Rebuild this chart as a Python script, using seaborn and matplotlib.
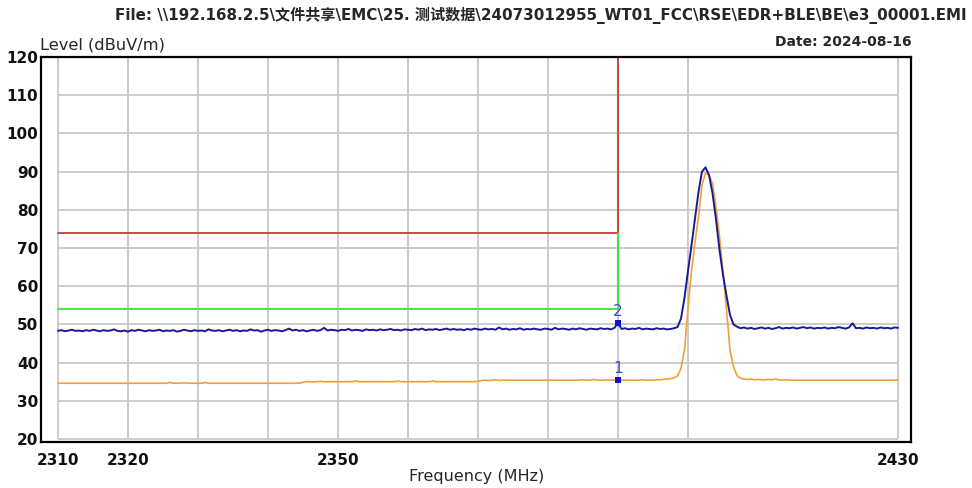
import numpy as np
import pandas as pd
import matplotlib
matplotlib.use("Agg")
import matplotlib.pyplot as plt
from matplotlib import font_manager
import seaborn as sns

# sweep: 2310 - 2430 MHz, 0.5 MHz step
freq_start, freq_stop, freq_step = 2310, 2430, 0.5

# peak detector trace (dBuV/m)
peak_level = [
    48.3, 48.5, 48.2, 48.4, 48.6, 48.3, 48.4, 48.2, 48.5, 48.3, 48.6, 48.4, 48.2, 48.5, 48.3, 48.4, 48.7, 48.3, 48.2, 48.4,
    48.1, 48.5, 48.3, 48.6, 48.4, 48.2, 48.5, 48.3, 48.4, 48.6, 48.2, 48.4, 48.3, 48.5, 48.1, 48.3, 48.6, 48.4, 48.2, 48.5,
    48.3, 48.4, 48.2, 48.7, 48.4, 48.3, 48.5, 48.2, 48.4, 48.6, 48.3, 48.5, 48.2, 48.4, 48.3, 48.7, 48.4, 48.5, 48.1, 48.4,
    48.6, 48.3, 48.5, 48.4, 48.2, 48.5, 48.9, 48.4, 48.6, 48.3, 48.5, 48.2, 48.4, 48.6, 48.3, 48.5, 49.1, 48.4, 48.6, 48.5,
    48.3, 48.6, 48.5, 48.8, 48.4, 48.6, 48.5, 48.3, 48.7, 48.5, 48.6, 48.4, 48.7, 48.5, 48.6, 48.8, 48.5, 48.6, 48.4, 48.7,
    48.6, 48.5, 48.8, 48.6, 48.9, 48.5, 48.7, 48.6, 48.8, 48.5, 48.7, 48.9, 48.6, 48.8, 48.6, 48.7, 48.5, 48.8, 48.6, 48.9,
    48.7, 48.6, 48.9, 48.7, 48.8, 48.6, 49.2, 48.7, 48.9, 48.6, 48.8, 48.7, 49.0, 48.6, 48.8, 48.7, 48.9, 48.7, 48.6, 48.9,
    48.8, 48.6, 49.1, 48.7, 48.9, 48.8, 48.6, 48.9, 48.7, 49.0, 48.8, 48.6, 48.9, 48.8, 48.7, 49.0, 48.8, 48.9, 48.7, 49.1,
    50.4, 48.8, 49.0, 48.7, 48.9, 48.8, 49.1, 48.7, 48.9, 48.8, 48.7, 49.0, 48.8, 48.9, 48.7, 48.8, 49.0, 49.3, 51.5, 57.0,
    64.0, 70.7, 77.8, 84.7, 90.0, 91.1, 89.1, 84.4, 77.5, 69.5, 63.0, 57.5, 52.5, 50.0, 49.4, 49.0, 49.2, 48.9, 49.1, 48.8,
    49.0, 49.2, 48.9, 49.1, 48.8, 49.0, 49.3, 48.9, 49.1, 49.0, 49.2, 48.9, 49.1, 49.3, 49.0, 49.2, 48.9, 49.1, 49.0, 49.2,
    48.9, 49.1, 49.0, 49.3, 49.1, 48.9, 49.2, 50.3, 49.0, 49.1, 48.9, 49.2, 49.0, 49.1, 48.9, 49.2, 49.0, 49.1, 48.9, 49.2,
    49.1,
]

# average detector trace (dBuV/m)
avg_level = [
    34.6, 34.6, 34.6, 34.6, 34.6, 34.6, 34.6, 34.6, 34.6, 34.6, 34.6, 34.6, 34.6, 34.6, 34.6, 34.6, 34.6, 34.6, 34.6, 34.6,
    34.6, 34.6, 34.6, 34.6, 34.6, 34.6, 34.6, 34.6, 34.6, 34.6, 34.6, 34.6, 34.8, 34.6, 34.6, 34.6, 34.7, 34.6, 34.6, 34.6,
    34.6, 34.6, 34.8, 34.6, 34.6, 34.6, 34.6, 34.6, 34.6, 34.6, 34.6, 34.6, 34.6, 34.6, 34.6, 34.6, 34.6, 34.6, 34.6, 34.6,
    34.6, 34.6, 34.6, 34.6, 34.6, 34.6, 34.6, 34.6, 34.6, 34.6, 34.9, 35.0, 35.0, 34.9, 35.0, 35.1, 35.0, 35.0, 35.0, 35.0,
    35.0, 35.0, 35.0, 35.0, 35.0, 35.2, 35.0, 35.0, 35.0, 35.0, 35.0, 35.0, 35.0, 35.0, 35.0, 35.0, 35.0, 35.2, 35.0, 35.0,
    35.0, 35.0, 35.0, 35.0, 35.0, 35.0, 35.0, 35.2, 35.0, 35.0, 35.0, 35.0, 35.0, 35.0, 35.0, 35.0, 35.0, 35.0, 35.0, 35.0,
    35.1, 35.3, 35.4, 35.3, 35.4, 35.5, 35.3, 35.4, 35.4, 35.4, 35.4, 35.4, 35.4, 35.4, 35.4, 35.4, 35.4, 35.4, 35.4, 35.4,
    35.4, 35.4, 35.4, 35.4, 35.4, 35.4, 35.4, 35.4, 35.4, 35.4, 35.5, 35.4, 35.4, 35.6, 35.4, 35.4, 35.4, 35.5, 35.4, 35.4,
    35.4, 35.4, 35.4, 35.4, 35.4, 35.4, 35.4, 35.5, 35.4, 35.4, 35.4, 35.5, 35.5, 35.6, 35.7, 35.8, 36.0, 36.5, 38.5, 43.3,
    54.2, 64.0, 71.5, 78.2, 86.5, 89.6, 89.2, 86.9, 80.7, 73.0, 63.7, 54.0, 43.3, 39.0, 36.6, 35.9, 35.7, 35.6, 35.7, 35.5,
    35.6, 35.5, 35.5, 35.6, 35.5, 35.7, 35.5, 35.4, 35.5, 35.4, 35.4, 35.4, 35.4, 35.4, 35.4, 35.4, 35.4, 35.4, 35.4, 35.4,
    35.4, 35.4, 35.4, 35.4, 35.4, 35.4, 35.4, 35.4, 35.4, 35.4, 35.4, 35.4, 35.4, 35.4, 35.4, 35.4, 35.4, 35.4, 35.4, 35.4,
    35.4,
]

# FCC restricted band limits
limit_freq = [2310, 2390, 2390]
peak_limit = [74, 74, 120]
avg_limit = [54, 54, 74]

# markers
marker_names = ["1", "2"]
marker_freq = [2390, 2390]
marker_level = [35.4, 50.4]

grid_freq = [2310, 2320, 2330, 2340, 2350, 2360, 2370, 2380, 2390, 2400, 2430]
grid_level = [20, 30, 40, 50, 60, 70, 80, 90, 100, 110, 120]
xtick_freq = [2310, 2320, 2350, 2430]

title_text = r"File: \\192.168.2.5\文件共享\EMC\25. 测试数据\24073012955_WT01_FCC\RSE\EDR+BLE\BE\e3_00001.EMI"
date_text = "Date: 2024-08-16"

sns.set_style("white")
names = {f.name for f in font_manager.fontManager.ttflist}
narrow = "Liberation Sans Narrow" if "Liberation Sans Narrow" in names else "DejaVu Sans"
plt.rcParams["font.family"] = ["DejaVu Sans", "Noto Sans CJK SC"]

freq = np.arange(freq_start, freq_stop + freq_step / 2, freq_step)
df = pd.DataFrame({"freq": freq, "Peak": peak_level, "Average": avg_level})

fig = plt.figure(figsize=(9.72, 4.88), dpi=100)
ax = fig.add_axes([41 / 972, 46 / 488, 870 / 972, 385 / 488])

# grid only inside the data area
ax.hlines(grid_level, 2310, 2430, color="#c8c8c8", lw=1.3, zorder=0)
ax.vlines(grid_freq, 20, 120, color="#c8c8c8", lw=1.3, zorder=0)

ax.plot(limit_freq, peak_limit, color="#c83c32", lw=1.3)
ax.plot(limit_freq, avg_limit, color="#3ce03c", lw=1.3)

sns.lineplot(data=df, x="freq", y="Average", ax=ax, color="#eda236", lw=1.2, estimator=None)
sns.lineplot(data=df, x="freq", y="Peak", ax=ax, color="#1a1a96", lw=1.4, estimator=None)

sns.scatterplot(x=marker_freq, y=marker_level, ax=ax, marker="s", s=18,
                color="#1010d0", edgecolor="none", zorder=5)
for name, fx, lv in zip(marker_names, marker_freq, marker_level):
    ax.annotate(name, (fx, lv), xytext=(0, 3), textcoords="offset points",
                ha="center", va="bottom", color="#3a4ad0", fontsize=11)

px_per_mhz = 7.0
ax.set_xlim(2310 - 17 / px_per_mhz, 2310 + 853 / px_per_mhz)
ax.set_ylim(20 - 3 / 3.82, 120)
ax.set_xticks(xtick_freq)
ax.set_xticklabels([str(v) for v in xtick_freq])
ax.set_yticks(grid_level)
ax.tick_params(length=0, labelsize=11, labelcolor="#111111")
ax.tick_params(axis="x", pad=8)
ax.tick_params(axis="y", pad=2)
for lab in ax.get_xticklabels() + ax.get_yticklabels():
    lab.set_fontweight("bold")
ax.set_xlabel("")
ax.set_ylabel("")
for sp in ax.spines.values():
    sp.set_color("black")
    sp.set_linewidth(1.6)

t_title = fig.text(541 / 972, 1 - 15 / 488, title_text, ha="center", va="center",
                   fontsize=11, fontweight="bold", family=[narrow, "Noto Sans CJK SC"])
t_date = fig.text(912 / 972, 1 - 42 / 488, date_text, ha="right", va="center",
                  fontsize=11, fontweight="bold", family=[narrow, "DejaVu Sans"])
t_level = fig.text(40 / 972, 1 - 45 / 488, "Level (dBuV/m)", ha="left", va="center",
                   fontsize=11, family=[narrow, "DejaVu Sans"])
t_freq = fig.text(477 / 972, 1 - 476 / 488, "Frequency (MHz)", ha="center", va="center",
                  fontsize=11, family=[narrow, "DejaVu Sans"])

# scale the header texts to their measured widths in the reference
fig.canvas.draw()
renderer = fig.canvas.get_renderer()
for txt, width in [(t_title, 847), (t_date, 137), (t_level, 125), (t_freq, 135)]:
    w = txt.get_window_extent(renderer).width
    txt.set_fontsize(txt.get_fontsize() * width / w)

fig.savefig("out.png", dpi=100)
